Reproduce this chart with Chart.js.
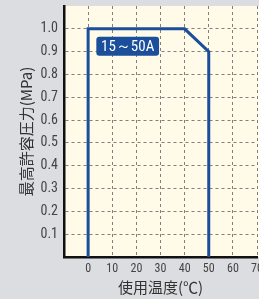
<!DOCTYPE html>
<html>
<head>
<meta charset="utf-8">
<script src="https://cdn.jsdelivr.net/npm/chart.js@4"></script>
<style>
  html, body { margin: 0; padding: 0; background: #dcdde0; }
  #wrap { width: 259px; height: 299px; }
</style>
</head>
<body>
<div id="wrap"><canvas id="c" width="259" height="299"></canvas></div>
<script>
// 使用温度 (℃) と 最高許容圧力 (MPa)
const tempPoints = [0, 0, 40, 50, 50];
const pressPoints = [0, 1.0, 1.0, 0.9, 0];
const xTicks = [0, 10, 20, 30, 40, 50, 60, 70];
const yTicks = [0.1, 0.2, 0.3, 0.4, 0.5, 0.6, 0.7, 0.8, 0.9, 1.0];
const seriesLabel = '15～50A';

const narrow = "'Roboto Condensed', 'DejaVu Sans Condensed', sans-serif";
const cjk = "'Noto Sans CJK JP', 'Noto Sans', sans-serif";

// 背景とラベル
const decor = {
    id: 'decor',
    beforeDraw(chart) {
        const { ctx, chartArea: a } = chart;
        ctx.save();
        ctx.fillStyle = '#dcdde0';
        ctx.fillRect(0, 0, chart.width, chart.height);
        ctx.fillStyle = '#fffbe8';
        ctx.fillRect(a.left, a.top, chart.width - a.left, a.bottom - a.top);
        ctx.restore();
    },
    afterDatasetsDraw(chart) {
        const { ctx, scales } = chart;
        const x0 = scales.x.getPixelForValue(3.4);
        const x1 = scales.x.getPixelForValue(29.4);
        const y0 = scales.y.getPixelForValue(0.965);
        const y1 = scales.y.getPixelForValue(0.882);
        ctx.save();
        ctx.fillStyle = '#1b4e9b';
        ctx.beginPath();
        ctx.roundRect(x0, y0, x1 - x0, y1 - y0, 3);
        ctx.fill();
        ctx.fillStyle = '#ffffff';
        ctx.font = '15px ' + narrow;
        ctx.textAlign = 'center';
        ctx.textBaseline = 'middle';
        ctx.fillText(seriesLabel, (x0 + x1) / 2, (y0 + y1) / 2 + 1);
        ctx.restore();
    }
};

new Chart(document.getElementById('c'), {
    type: 'scatter',
    data: {
        datasets: [{
            label: seriesLabel,
            data: tempPoints.map((t, i) => ({ x: t, y: pressPoints[i] })),
            showLine: true,
            borderColor: '#1b4e9b',
            borderWidth: 3,
            borderJoinStyle: 'miter',
            pointRadius: 0,
            tension: 0
        }]
    },
    options: {
        responsive: false,
        animation: false,
        layout: { padding: { top: 6, right: 2, left: 0, bottom: 0 } },
        plugins: { legend: { display: false }, tooltip: { enabled: false } },
        scales: {
            x: {
                type: 'linear',
                min: -10,
                max: 70,
                afterBuildTicks: axis => { axis.ticks = xTicks.map(v => ({ value: v })); },
                afterFit: axis => { axis.height = 42; axis.paddingLeft = 0; axis.paddingRight = 0; },
                grid: { color: '#7f7f7f', lineWidth: 1, drawTicks: false },
                border: { color: '#111', width: 2.5, dash: [3, 3] },
                ticks: { color: '#444', padding: 5, font: { family: narrow, size: 12 }, maxRotation: 0 },
                title: { display: true, text: '使用温度(℃)', color: '#333', font: { family: cjk, size: 15 }, padding: { top: 0, bottom: 3 } }
            },
            y: {
                min: 0,
                max: 1.1,
                afterBuildTicks: axis => { axis.ticks = yTicks.map(v => ({ value: v })); },
                afterFit: axis => { axis.width = 64; axis.paddingTop = 0; axis.paddingBottom = 0; },
                grid: { color: '#7f7f7f', lineWidth: 1, drawTicks: false },
                border: { color: '#111', width: 2.5, dash: [3, 3] },
                ticks: { color: '#444', padding: 6, font: { family: narrow, size: 14 }, callback: v => v.toFixed(1) },
                title: { display: true, text: '最高許容圧力(MPa)', color: '#333', font: { family: cjk, size: 15 }, padding: { top: 17, bottom: 0 } }
            }
        }
    },
    plugins: [decor]
});
</script>
</body>
</html>
